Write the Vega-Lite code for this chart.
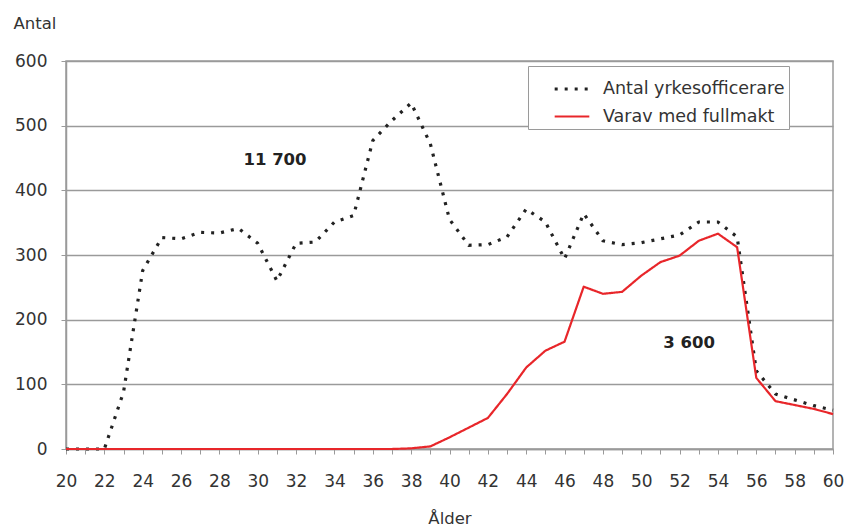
{
  "$schema": "https://vega.github.io/schema/vega-lite/v6.json",
  "width": 767,
  "height": 388,
  "autosize": {"type": "none"},
  "padding": {"left": 66, "top": 61, "right": 15, "bottom": 82},
  "background": "#ffffff",
  "config": {
    "font": "DejaVu Sans",
    "view": {"stroke": "#9a9a9a", "strokeWidth": 1.5},
    "axis": {"labelFont": "DejaVu Sans", "titleFont": "DejaVu Sans", "labelColor": "#333333", "titleColor": "#333333", "labelFontSize": 17, "titleFontSize": 16.5, "titleFontWeight": "normal", "domainColor": "#9a9a9a", "tickColor": "#9a9a9a", "gridColor": "#9a9a9a"}
  },
  "resolve": {"axis": {"x": "independent"}},
  "datasets": {
    "series": [
      {"age": 20, "series": "Antal yrkesofficerare", "value": 0},
      {"age": 21, "series": "Antal yrkesofficerare", "value": 0},
      {"age": 22, "series": "Antal yrkesofficerare", "value": 0},
      {"age": 23, "series": "Antal yrkesofficerare", "value": 88},
      {"age": 24, "series": "Antal yrkesofficerare", "value": 276},
      {"age": 25, "series": "Antal yrkesofficerare", "value": 327},
      {"age": 26, "series": "Antal yrkesofficerare", "value": 325},
      {"age": 27, "series": "Antal yrkesofficerare", "value": 335},
      {"age": 28, "series": "Antal yrkesofficerare", "value": 334},
      {"age": 29, "series": "Antal yrkesofficerare", "value": 341},
      {"age": 30, "series": "Antal yrkesofficerare", "value": 318},
      {"age": 31, "series": "Antal yrkesofficerare", "value": 260},
      {"age": 32, "series": "Antal yrkesofficerare", "value": 318},
      {"age": 33, "series": "Antal yrkesofficerare", "value": 320},
      {"age": 34, "series": "Antal yrkesofficerare", "value": 351},
      {"age": 35, "series": "Antal yrkesofficerare", "value": 361},
      {"age": 36, "series": "Antal yrkesofficerare", "value": 477},
      {"age": 37, "series": "Antal yrkesofficerare", "value": 508},
      {"age": 38, "series": "Antal yrkesofficerare", "value": 535},
      {"age": 39, "series": "Antal yrkesofficerare", "value": 472},
      {"age": 40, "series": "Antal yrkesofficerare", "value": 355},
      {"age": 41, "series": "Antal yrkesofficerare", "value": 315},
      {"age": 42, "series": "Antal yrkesofficerare", "value": 316},
      {"age": 43, "series": "Antal yrkesofficerare", "value": 328},
      {"age": 44, "series": "Antal yrkesofficerare", "value": 371},
      {"age": 45, "series": "Antal yrkesofficerare", "value": 351},
      {"age": 46, "series": "Antal yrkesofficerare", "value": 294},
      {"age": 47, "series": "Antal yrkesofficerare", "value": 364},
      {"age": 48, "series": "Antal yrkesofficerare", "value": 322},
      {"age": 49, "series": "Antal yrkesofficerare", "value": 316},
      {"age": 50, "series": "Antal yrkesofficerare", "value": 319},
      {"age": 51, "series": "Antal yrkesofficerare", "value": 325},
      {"age": 52, "series": "Antal yrkesofficerare", "value": 331},
      {"age": 53, "series": "Antal yrkesofficerare", "value": 351},
      {"age": 54, "series": "Antal yrkesofficerare", "value": 351},
      {"age": 55, "series": "Antal yrkesofficerare", "value": 328},
      {"age": 56, "series": "Antal yrkesofficerare", "value": 121},
      {"age": 57, "series": "Antal yrkesofficerare", "value": 85},
      {"age": 58, "series": "Antal yrkesofficerare", "value": 76},
      {"age": 59, "series": "Antal yrkesofficerare", "value": 67},
      {"age": 60, "series": "Antal yrkesofficerare", "value": 60},
      {"age": 20, "series": "Varav med fullmakt", "value": 0},
      {"age": 21, "series": "Varav med fullmakt", "value": 0},
      {"age": 22, "series": "Varav med fullmakt", "value": 0},
      {"age": 23, "series": "Varav med fullmakt", "value": 0},
      {"age": 24, "series": "Varav med fullmakt", "value": 0},
      {"age": 25, "series": "Varav med fullmakt", "value": 0},
      {"age": 26, "series": "Varav med fullmakt", "value": 0},
      {"age": 27, "series": "Varav med fullmakt", "value": 0},
      {"age": 28, "series": "Varav med fullmakt", "value": 0},
      {"age": 29, "series": "Varav med fullmakt", "value": 0},
      {"age": 30, "series": "Varav med fullmakt", "value": 0},
      {"age": 31, "series": "Varav med fullmakt", "value": 0},
      {"age": 32, "series": "Varav med fullmakt", "value": 0},
      {"age": 33, "series": "Varav med fullmakt", "value": 0},
      {"age": 34, "series": "Varav med fullmakt", "value": 0},
      {"age": 35, "series": "Varav med fullmakt", "value": 0},
      {"age": 36, "series": "Varav med fullmakt", "value": 0},
      {"age": 37, "series": "Varav med fullmakt", "value": 0},
      {"age": 38, "series": "Varav med fullmakt", "value": 1},
      {"age": 39, "series": "Varav med fullmakt", "value": 4},
      {"age": 40, "series": "Varav med fullmakt", "value": 18},
      {"age": 41, "series": "Varav med fullmakt", "value": 33},
      {"age": 42, "series": "Varav med fullmakt", "value": 48},
      {"age": 43, "series": "Varav med fullmakt", "value": 85},
      {"age": 44, "series": "Varav med fullmakt", "value": 126},
      {"age": 45, "series": "Varav med fullmakt", "value": 152},
      {"age": 46, "series": "Varav med fullmakt", "value": 166},
      {"age": 47, "series": "Varav med fullmakt", "value": 251},
      {"age": 48, "series": "Varav med fullmakt", "value": 240},
      {"age": 49, "series": "Varav med fullmakt", "value": 243},
      {"age": 50, "series": "Varav med fullmakt", "value": 268},
      {"age": 51, "series": "Varav med fullmakt", "value": 289},
      {"age": 52, "series": "Varav med fullmakt", "value": 299},
      {"age": 53, "series": "Varav med fullmakt", "value": 322},
      {"age": 54, "series": "Varav med fullmakt", "value": 333},
      {"age": 55, "series": "Varav med fullmakt", "value": 312},
      {"age": 56, "series": "Varav med fullmakt", "value": 110},
      {"age": 57, "series": "Varav med fullmakt", "value": 74},
      {"age": 58, "series": "Varav med fullmakt", "value": 68},
      {"age": 59, "series": "Varav med fullmakt", "value": 62},
      {"age": 60, "series": "Varav med fullmakt", "value": 54}
    ],
    "labels": [
      {"age": 30.9, "value": 447, "label": "11 700"},
      {"age": 52.5, "value": 164, "label": "3 600"}
    ]
  },
  "layer": [
    {
      "data": {"name": "series"},
      "mark": {"type": "line", "strokeCap": "butt", "strokeJoin": "round"},
      "encoding": {
        "x": {
          "field": "age", "type": "quantitative",
          "scale": {"domain": [20, 60], "nice": false, "zero": false},
          "axis": {
            "orient": "bottom",
            "title": null,
            "values": [20,21,22,23,24,25,26,27,28,29,30,31,32,33,34,35,36,37,38,39,40,41,42,43,44,45,46,47,48,49,50,51,52,53,54,55,56,57,58,59,60],
            "labels": false,
            "grid": false,
            "tickSize": 5,
            "domainWidth": 1.5
          }
        },
        "y": {
          "field": "value", "type": "quantitative",
          "scale": {"domain": [0, 600], "nice": false},
          "axis": {
            "title": "Antal",
            "titleAngle": 0,
            "titleAlign": "left",
            "titleBaseline": "middle",
            "titleX": -53,
            "titleY": -38,
            "values": [0, 100, 200, 300, 400, 500, 600],
            "grid": true,
            "gridWidth": 1.5,
            "tickSize": 5,
            "domainWidth": 1.5,
            "labelPadding": 14
          }
        },
        "color": {
          "field": "series", "type": "nominal",
          "scale": {"domain": ["Antal yrkesofficerare", "Varav med fullmakt"], "range": ["#222222", "#e8262a"]},
          "legend": {
            "title": null,
            "orient": "none",
            "legendX": 462,
            "legendY": 5,
            "direction": "vertical",
            "fillColor": "#ffffff",
            "strokeColor": "#9a9a9a",
            "padding": 4,
            "rowPadding": 0,
            "symbolOffset": 21,
            "symbolType": "stroke",
            "symbolSize": 1200,
            "symbolStrokeWidth": 3,
            "labelFont": "DejaVu Sans",
            "labelFontSize": 17.5,
            "labelColor": "#333333",
            "labelOffset": 12,
            "labelLimit": 400,
            "offset": 0
          }
        },
        "strokeDash": {
          "field": "series", "type": "nominal",
          "scale": {"domain": ["Antal yrkesofficerare", "Varav med fullmakt"], "range": [[3, 7], [1, 0]]},
          "legend": null
        },
        "strokeWidth": {
          "field": "series", "type": "nominal",
          "scale": {"domain": ["Antal yrkesofficerare", "Varav med fullmakt"], "range": [3.2, 2.2]},
          "legend": null
        }
      }
    },
    {
      "data": {"name": "labels"},
      "mark": {"type": "text", "font": "DejaVu Sans", "fontWeight": "bold", "fontSize": 16.5, "color": "#222222", "align": "center", "baseline": "middle"},
      "encoding": {
        "x": {
          "field": "age", "type": "quantitative",
          "axis": {
            "orient": "bottom",
            "title": "Ålder",
            "values": [20,22,24,26,28,30,32,34,36,38,40,42,44,46,48,50,52,54,56,58,60],
            "labelOverlap": false,
            "labelFlush": false,
            "ticks": false,
            "tickSize": 0,
            "domain": false,
            "grid": false,
            "labelPadding": 24,
            "titlePadding": 21
          }
        },
        "y": {"field": "value", "type": "quantitative"},
        "text": {"field": "label"}
      }
    }
  ]
}
